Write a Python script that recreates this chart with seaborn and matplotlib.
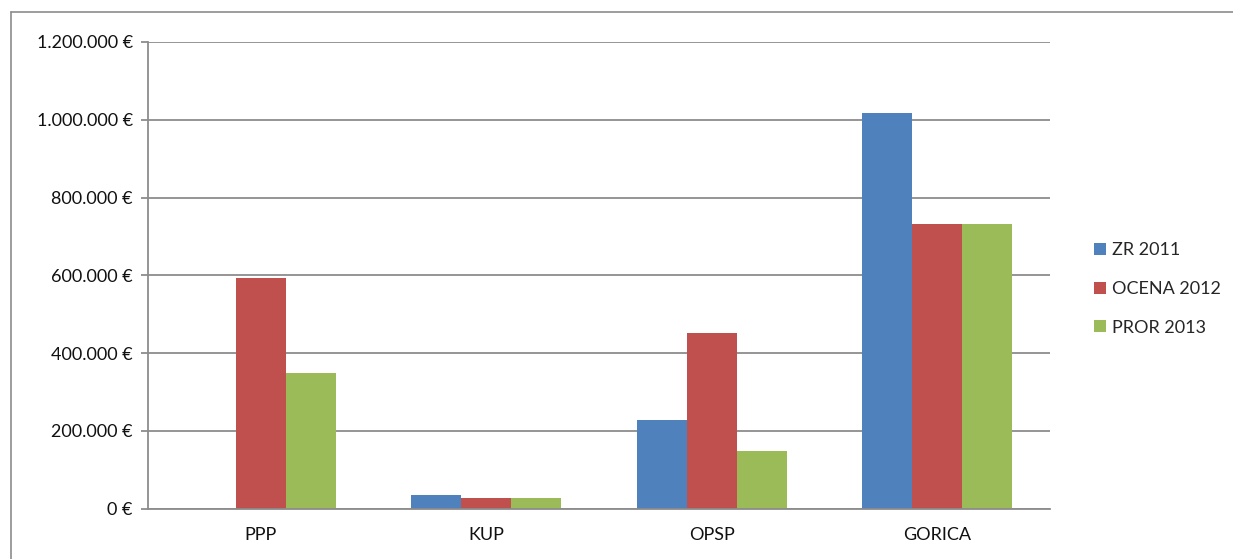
import matplotlib.pyplot as plt
import matplotlib.lines as mlines
import pandas as pd
import seaborn as sns
from matplotlib.ticker import FuncFormatter, MultipleLocator

categories = ["PPP", "KUP", "OPSP", "GORICA"]
series = ["ZR 2011", "OCENA 2012", "PROR 2013"]
zr_2011 = [0, 36000, 227000, 1017000]
ocena_2012 = [594000, 26000, 452000, 733000]
pror_2013 = [349000, 26000, 149000, 733000]
colors = ["#4F81BD", "#C0504D", "#9BBB59"]

sns.set_theme(style="white")
plt.rcParams["font.family"] = ["Lato", "DejaVu Sans"]

df = pd.DataFrame({
    "category": categories * 3,
    "series": [series[0]] * 4 + [series[1]] * 4 + [series[2]] * 4,
    "value": zr_2011 + ocena_2012 + pror_2013,
})

fig = plt.figure(figsize=(12.33, 5.59), dpi=100)
fig.patch.set_edgecolor("none")
fig.patch.set_linewidth(0)
ax = fig.add_axes([148 / 1233, 1 - 508.5 / 559, (1050 - 148) / 1233, (508.5 - 42) / 559])

sns.barplot(data=df, x="category", y="value", hue="series", palette=colors,
            width=0.665, saturation=1, ax=ax, legend=True, edgecolor="none")

ax.set_ylim(0, 1200000)
ax.set_xlim(-0.5, 3.5)
ax.yaxis.set_major_locator(MultipleLocator(200000))


def euro(v, pos):
    return f"{int(v):,}".replace(",", ".") + " €"


ax.yaxis.set_major_formatter(FuncFormatter(euro))
ax.grid(axis="y", color="#8c8c8c", linewidth=1.3)
ax.set_axisbelow(True)
for side in ["top", "right"]:
    ax.spines[side].set_visible(False)
for side in ["left", "bottom"]:
    ax.spines[side].set_color("#8c8c8c")
    ax.spines[side].set_linewidth(1.3)

ax.set_xticks([0, 1, 2, 3])
ax.set_xticklabels(categories, fontsize=13, color="#111111")
ax.set_xticks([-0.5, 0.5, 1.5, 2.5, 3.5], minor=True)
ax.tick_params(axis="x", which="major", length=0, pad=13)
ax.tick_params(axis="x", which="minor", length=5, width=1.3, color="#8c8c8c", direction="out")
ax.tick_params(axis="y", length=5, width=1.3, color="#8c8c8c", direction="out",
               labelsize=13, labelcolor="#111111", pad=6, left=True)
ax.set_xlabel("")
ax.set_ylabel("")

handles, labels = ax.get_legend_handles_labels()
ax.legend(handles, labels, loc="center left", bbox_to_anchor=(1078 / 1233, 1 - 289 / 559),
          bbox_transform=fig.transFigure, frameon=False, fontsize=13,
          handlelength=0.65, handleheight=0.65, handletextpad=0.35, labelspacing=1.25)

# outer chart border (only top and left visible in the reference)
border_x = 11 / 1233
border_y = 1 - 12 / 559
fig.lines.append(mlines.Line2D([border_x, 1.01], [border_y, border_y], transform=fig.transFigure,
                               color="#8c8c8c", linewidth=1.2))
fig.lines.append(mlines.Line2D([border_x, border_x], [-0.01, border_y], transform=fig.transFigure,
                               color="#8c8c8c", linewidth=1.2))

plt.savefig("out.png", dpi=100, edgecolor="none")
